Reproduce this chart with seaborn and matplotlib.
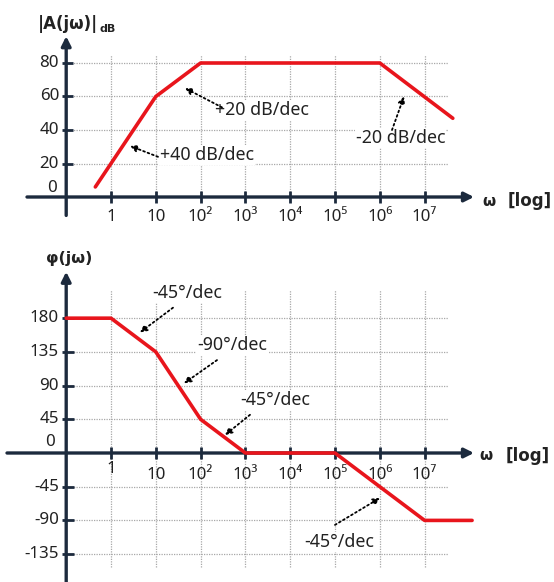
import numpy as np
import pandas as pd
import matplotlib
matplotlib.use("Agg")
import matplotlib.pyplot as plt
import seaborn as sns

# ---- data ----
mag_w = [10**-0.35, 10, 100, 1e6, 10**7.63]
mag_db = [6, 60, 80, 80, 47]
phase_w = [0.1, 1, 10, 100, 1e3, 1e5, 1e7, 10**8.06]
phase_deg = [180, 180, 135, 45, 0, 0, -90, -90]
decades = [1, 10, 1e2, 1e3, 1e4, 1e5, 1e6, 1e7]
decade_labels = ["1", "10", "10²", "10³", "10⁴", "10⁵", "10⁶", "10⁷"]
mag_ticks = [80, 60, 40, 20]
phase_ticks = [180, 135, 90, 45, -45, -90, -135]

sns.set_theme(style="white")
plt.rcParams['font.family'] = ['Noto Sans', 'DejaVu Sans']

W, H = 554, 582
fig = plt.figure(figsize=(W / 100, H / 100), dpi=100)
fig.patch.set_facecolor("white")

NAVY = "#1c2a3d"
RED = "#e8151c"
GRID = "#a8a8a8"
TXT = "#222222"
PXD = 44.8  # pixels per decade
X0 = 111    # pixel of omega = 1

def lg(px):
    return 10 ** ((px - X0) / PXD)

# top axes: rows 0..240, value = (197 - py)/1.675
ax1 = fig.add_axes([0, 1 - 240 / H, 1, 240 / H])
# bottom axes: rows 240..582, value = (453 - py)/0.749
ax2 = fig.add_axes([0, 0, 1, (H - 240) / H])

# curves
sns.lineplot(x=mag_w, y=mag_db, ax=ax1, color=RED, lw=2.6, zorder=4, sort=False)
sns.lineplot(x=phase_w, y=phase_deg, ax=ax2, color=RED, lw=2.6, zorder=4, sort=False)

for a in (ax1, ax2):
    a.set_xscale("log")
    a.set_xlim(lg(0), lg(W))
    a.axis("off")
ax1.set_ylim(-(240 - 197) / 1.675, 197 / 1.675)
ax2.set_ylim((453 - 582) / 0.749, (453 - 240) / 0.749)

gkw = dict(color=GRID, lw=0.9, ls=(0, (1, 1)), zorder=1)
# grids
ax1.vlines(decades, 0, 85, **gkw)
ax1.hlines(mag_ticks, 0.1, 10**7.52, **gkw)
ax2.vlines(decades, -152, 218, **gkw)
ax2.hlines(phase_ticks, 0.1, 10**7.52, **gkw)

akw = dict(arrowstyle="-|>", color=NAVY, lw=2.4, mutation_scale=14,
           shrinkA=0, shrinkB=0)
# top axes lines
ax1.annotate("", xy=(lg(474), 0), xytext=(lg(27), 0), arrowprops=akw, zorder=3)
ax1.annotate("", xy=(0.1, 96), xytext=(0.1, -11), arrowprops=akw, zorder=3)
# bottom axes lines
ax2.annotate("", xy=(lg(474), 0), xytext=(lg(7), 0), arrowprops=akw, zorder=3)
ax2.annotate("", xy=(0.1, 242), xytext=(0.1, -175), arrowprops=akw, zorder=3)

# ticks
ax1.vlines(decades, -3.5, 3.5, color=NAVY, lw=2, zorder=3)
ax1.hlines(mag_ticks, lg(62), lg(73), color=NAVY, lw=2, zorder=3)
ax2.vlines(decades, -8, 8, color=NAVY, lw=2, zorder=3)
ax2.hlines(phase_ticks, lg(62), lg(74), color=NAVY, lw=2, zorder=3)

FS = 12.2
AFS = 12.8
# tick labels
for d, lab in zip(decades, decade_labels):
    ax1.text(d, -12, lab, ha="center", va="center", fontsize=FS, color=TXT)
    yv = -22 if d == 1 else -29
    ax2.text(d, yv, lab, ha="center", va="center", fontsize=FS, color=TXT)
for v in mag_ticks:
    ax1.text(lg(59), v, str(v), ha="right", va="center", fontsize=FS, color=TXT)
ax1.text(lg(57), 5.4, "0", ha="right", va="center", fontsize=FS, color=TXT)
for v in phase_ticks:
    ax2.text(lg(59), v, str(v), ha="right", va="center", fontsize=FS, color=TXT)
ax2.text(lg(55), 14.7, "0", ha="right", va="center", fontsize=FS, color=TXT)

# annotations
def note(ax, txt, tpos, tail, head):
    ax.text(tpos[0], tpos[1], txt, ha="left", va="center", fontsize=AFS,
            color=TXT, zorder=5,
            bbox=dict(boxstyle="square,pad=0.05", fc="white", ec="none"))
    ax.annotate("", xy=head, xytext=tail, zorder=6,
                arrowprops=dict(arrowstyle="-|>", color="black", lw=1.3,
                                ls=(0, (1, 1.6)), mutation_scale=10,
                                shrinkA=0, shrinkB=0))

note(ax1, "+20 dB/dec", (lg(215), 52), (lg(222), 53.5), (lg(185), 65))
note(ax1, "+40 dB/dec", (lg(160), 25), (lg(158), 24), (lg(130), 30.5))
note(ax1, "-20 dB/dec", (lg(356), 35.2), (lg(392), 40), (lg(404), 60))

note(ax2, "-45°/dec", (lg(152), 213), (lg(173), 194), (lg(140), 161))
note(ax2, "-90°/dec", (lg(197), 144), (lg(217), 124), (lg(184), 93))
note(ax2, "-45°/dec", (lg(240), 71), (lg(250), 51), (lg(225), 24))
note(ax2, "-45°/dec", (lg(304), -119), (lg(335), -96), (lg(380), -60))

# axis titles
def ftxt(px, py, s, **kw):
    fig.text(px / W, 1 - py / H, s, color=TXT, va="center", fontweight="bold",
             family=["DejaVu Sans"], **kw)

ftxt(38, 24, "|A(jω)|", fontsize=12)
ftxt(99, 29, "dB", fontsize=8)
ftxt(482, 201, "ω", fontsize=11)
ftxt(508, 201, "[log]", fontsize=12)
ftxt(46, 258, "φ(jω)", fontsize=11.5)
ftxt(479, 456, "ω", fontsize=11)
ftxt(506, 456, "[log]", fontsize=12)

fig.savefig("out.png", dpi=100, facecolor="white")
